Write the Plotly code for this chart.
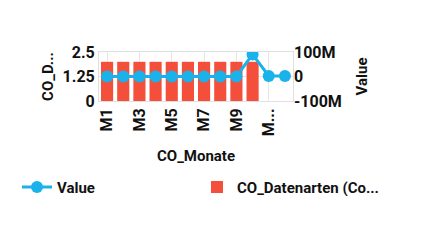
import plotly.graph_objects as go

categories = ["M1", "M2", "M3", "M4", "M5", "M6", "M7", "M8", "M9", "M10", "M11", "M12"]
bar_values = [2, 2, 2, 2, 2, 2, 2, 2, 2, 2, None, None]
line_values = [0, 0, 0, 0, 0, 0, 0, 0, 0, 90e6, 2e6, 2e6]
tick_vals = ["M1", "M3", "M5", "M7", "M9", "M11"]
tick_text = ["M1", "M3", "M5", "M7", "M9", "M..."]

BAR_COLOR = "#F44F3B"
LINE_COLOR = "#1AB2EA"
FONT = "Roboto"

fig = go.Figure()
fig.add_trace(go.Bar(
    x=categories, y=bar_values, name="CO_Datenarten (Co...",
    marker=dict(color=BAR_COLOR, line=dict(width=0)), yaxis="y",
    legend="legend2",
))
fig.add_trace(go.Scatter(
    x=categories, y=line_values, name="Value", mode="lines+markers",
    line=dict(color=LINE_COLOR, width=3),
    marker=dict(color=LINE_COLOR, size=12), yaxis="y2",
    legend="legend",
))

tfont = dict(family=FONT, size=16, color="#111", weight="bold")
ttfont = dict(family=FONT, size=15, color="#111", weight="bold")

leg_common = dict(orientation="h", xref="container", yref="container",
                  y=0.245, xanchor="left", yanchor="middle", font=ttfont,
                  bgcolor="rgba(0,0,0,0)")

fig.update_layout(
    width=445, height=248,
    margin=dict(l=99, r=152, t=52, b=147, autoexpand=False),
    paper_bgcolor="white", plot_bgcolor="white",
    bargap=0.25,
    font=dict(family=FONT, size=15, color="#111"),
    showlegend=True,
    legend=dict(x=17 / 445, **leg_common),
    legend2=dict(x=197 / 445, **leg_common),
    xaxis=dict(
        type="category", categoryorder="array", categoryarray=categories,
        range=[-0.5, len(categories) - 0.5],
        tickmode="array", tickvals=tick_vals, ticktext=tick_text,
        tickangle=-90, tickfont=tfont,
        title=dict(text="CO_Monate", font=ttfont),
        showgrid=True, gridcolor="#e6e6e6",
        showline=True, linecolor="#e0e0e0", mirror=True,
        ticks="", zeroline=False,
    ),
    yaxis=dict(
        range=[0, 2.5], tickvals=[0, 1.25, 2.5], ticktext=["0", "1.25", "2.5"],
        tickfont=tfont, title=dict(text="CO_D...", font=ttfont, standoff=5),
        showgrid=True, gridcolor="#e6e6e6",
        showline=True, linecolor="#e0e0e0", mirror=True,
        zeroline=False, ticks="",
    ),
    yaxis2=dict(
        overlaying="y", side="right", range=[-100e6, 100e6],
        tickvals=[-100e6, 0, 100e6], ticktext=["-100M", "0", "100M"],
        tickfont=tfont, title=dict(text="Value", font=ttfont),
        showgrid=False, zeroline=False, ticks="",
    ),
)

fig.write_html("out.html")
